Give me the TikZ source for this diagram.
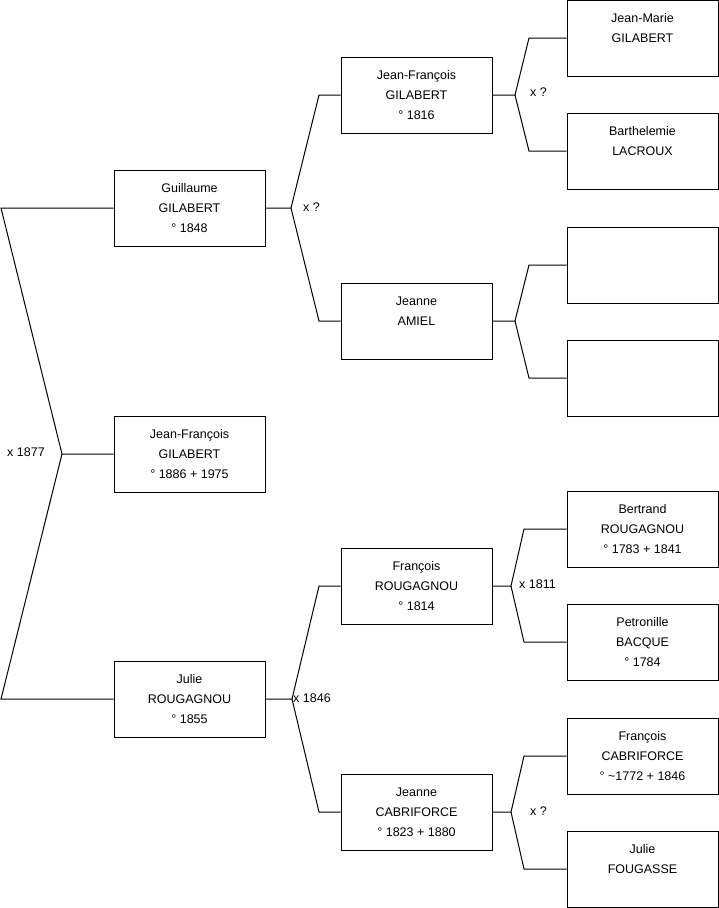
\documentclass[tikz,border=0pt]{standalone}
\usepackage{fontspec}
\setmainfont{Liberation Sans}
\newcommand{\threeline}[3]{\strut #1\\\strut #2\\\strut #3}
\begin{document}
\begin{tikzpicture}[x=1pt,y=-1pt,
  person/.style={draw=black, line width=1pt, minimum width=151pt, minimum height=76pt,
    inner sep=0pt, align=center, font=\fontsize{12.5}{20}\selectfont},
  link/.style={draw=black, line width=1pt},
  mlabel/.style={inner sep=0pt, font=\fontsize{12.5}{15}\selectfont}]
\useasboundingbox (0,0) rectangle (719,908);
% level 0 / 1
\node[person] (g) at (189.5,208) {\threeline{Guillaume}{GILABERT}{° 1848}};
\node[person] (r) at (189.5,454) {\threeline{Jean-François}{GILABERT}{° 1886 + 1975}};
\node[person] (j) at (189.5,699) {\threeline{Julie}{ROUGAGNOU}{° 1855}};
% level 2
\node[person] (q1) at (416.5,95) {\threeline{Jean-François}{GILABERT}{° 1816}};
\node[person] (q2) at (416.5,321) {\threeline{Jeanne}{AMIEL}{}};
\node[person] (q3) at (416.5,586) {\threeline{François}{ROUGAGNOU}{° 1814}};
\node[person] (q4) at (416.5,812) {\threeline{Jeanne}{CABRIFORCE}{° 1823 + 1880}};
% level 3
\node[person] (p1) at (642.5,38) {\threeline{Jean-Marie}{GILABERT}{}};
\node[person] (p2) at (642.5,151) {\threeline{Barthelemie}{LACROUX}{}};
\node[person] (p3) at (642.5,265) {};
\node[person] (p4) at (642.5,378) {};
\node[person] (p5) at (642.5,529) {\threeline{Bertrand}{ROUGAGNOU}{° 1783 + 1841}};
\node[person] (p6) at (642.5,642) {\threeline{Petronille}{BACQUE}{° 1784}};
\node[person] (p7) at (642.5,756) {\threeline{François}{CABRIFORCE}{° \textasciitilde 1772 + 1846}};
\node[person] (p8) at (642.5,869) {\threeline{Julie}{FOUGASSE}{}};
% labels
\node[mlabel] (l0) at (26,452) {x 1877};
\node[mlabel, anchor=west] (l1) at (303,207) {x ?};
\node[mlabel, anchor=west] (l2) at (293,698) {x 1846};
\node[mlabel, anchor=west] (l3) at (530,92) {x ?};
\node[mlabel, anchor=west] (l4) at (519,584) {x 1811};
\node[mlabel, anchor=west] (l5) at (530,811) {x ?};
% root fork
\coordinate (c0a) at (1,208);
\coordinate (c0f) at (62,454);
\coordinate (c0b) at (1,699);
\draw[link] (g.west) -- (c0a) -- (c0f) -- (r.west);
\draw[link] (c0f) -- (c0b) -- (j.west);
% g fork
\coordinate (c1f) at (291,208);
\coordinate (c1a) at (319,95);
\coordinate (c1b) at (319,321);
\draw[link] (g.east) -- (c1f) -- (c1a) -- (q1.west);
\draw[link] (c1f) -- (c1b) -- (q2.west);
% j fork
\coordinate (c2f) at (292,699);
\coordinate (c2a) at (319,586);
\coordinate (c2b) at (319,812);
\draw[link] (j.east) -- (c2f) -- (c2a) -- (q3.west);
\draw[link] (c2f) -- (c2b) -- (q4.west);
% q1 fork
\coordinate (c3f) at (515,95);
\coordinate (c3a) at (529,38);
\coordinate (c3b) at (529,151);
\draw[link] (q1.east) -- (c3f) -- (c3a) -- (p1.west);
\draw[link] (c3f) -- (c3b) -- (p2.west);
% q2 fork
\coordinate (c4f) at (515,321);
\coordinate (c4a) at (529,265);
\coordinate (c4b) at (529,378);
\draw[link] (q2.east) -- (c4f) -- (c4a) -- (p3.west);
\draw[link] (c4f) -- (c4b) -- (p4.west);
% q3 fork
\coordinate (c5f) at (511,586);
\coordinate (c5a) at (524,529);
\coordinate (c5b) at (524,642);
\draw[link] (q3.east) -- (c5f) -- (c5a) -- (p5.west);
\draw[link] (c5f) -- (c5b) -- (p6.west);
% q4 fork
\coordinate (c6f) at (511,812);
\coordinate (c6a) at (524,756);
\coordinate (c6b) at (524,869);
\draw[link] (q4.east) -- (c6f) -- (c6a) -- (p7.west);
\draw[link] (c6f) -- (c6b) -- (p8.west);
\end{tikzpicture}
\end{document}
